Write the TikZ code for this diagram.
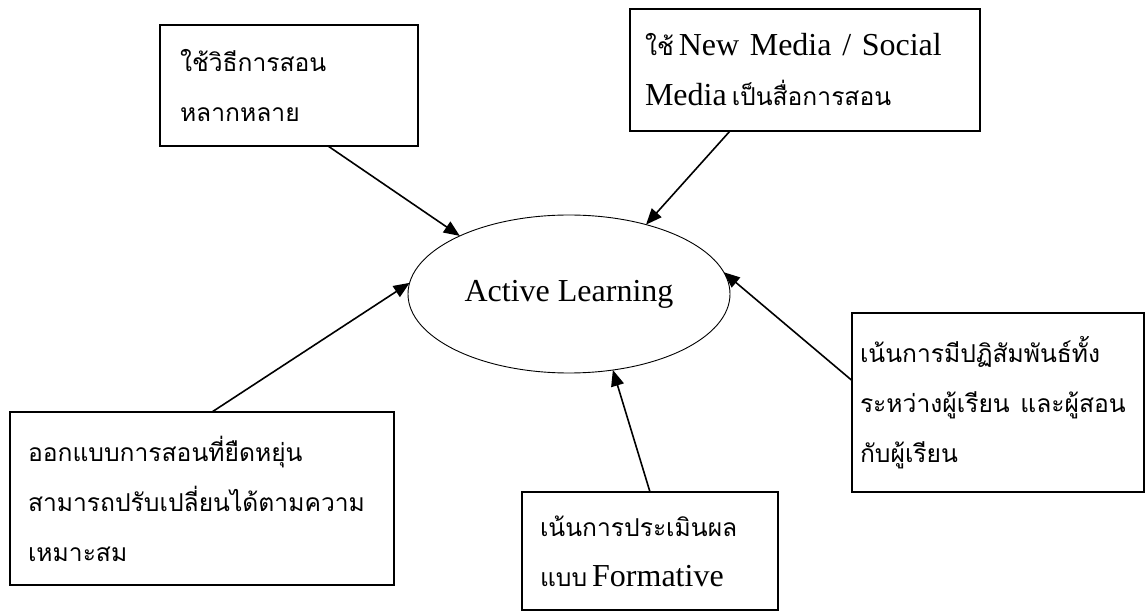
\documentclass[tikz,border=0pt]{standalone}
\usepackage{fontspec}
\setmainfont{Liberation Serif}
\newfontfamily\thaifont[Script=Thai,Scale=0.77]{Loma}
\newcommand{\tx}[1]{{\thaifont #1}}
\usetikzlibrary{shapes.geometric,arrows.meta,calc}

\tikzset{
  box/.style={draw, rectangle, line width=1.6pt, align=left, inner ysep=2pt, outer sep=0pt,
    font=\fontsize{32}{50}\selectfont},
  goal/.style={draw, ellipse, line width=0.9pt, inner sep=0pt, outer sep=0pt,
    minimum width=322pt, minimum height=158pt, font=\fontsize{32}{38}\selectfont},
  arr/.style={-{Triangle[length=16pt,width=13pt]}, line width=1.6pt}
}

\begin{document}
\begin{tikzpicture}[x=1pt,y=-1pt]
  \useasboundingbox (0,0) rectangle (1146,612);

  \node[goal] (goal) at (569,294) {Active Learning};

  \node[box, inner xsep=20pt, text width=218pt, minimum height=121pt] (method) at (289,85.5)
    {\tx{ใช้วิธีการสอน}\\ \tx{หลากหลาย}};
  \node[box, inner xsep=15pt, text width=320pt, minimum height=122pt] (media) at (805,70)
    {\tx{ใช้}\hspace{5pt}New Media / Social\\ Media\hspace{5pt}\tx{เป็นสื่อการสอน}};
  \node[box, inner xsep=8pt, text width=276pt, minimum height=179pt] (interact) at (998,402.5)
    {\tx{เน้นการมีปฏิสัมพันธ์ทั้ง}\\ \tx{ระหว่างผู้เรียน และผู้สอน}\\ \tx{กับผู้เรียน}};
  \node[box, inner xsep=18pt, text width=220pt, minimum height=118pt] (assess) at (650,551)
    {\tx{เน้นการประเมินผล}\\ \tx{แบบ}\hspace{5pt}Formative};
  \node[box, inner xsep=18pt, text width=348pt, minimum height=173pt] (flex) at (202,498.5)
    {\tx{ออกแบบการสอนที่ยืดหยุ่น}\\ \tx{สามารถปรับเปลี่ยนได้ตามความ}\\ \tx{เหมาะสม}};

  % arrows into the centre
  \draw[arr] ([xshift=39pt]method.south) -- (goal.152);
  \draw[arr] ([xshift=-75pt]media.south) -- (goal.42);
  \draw[arr] ([yshift=22pt]interact.west) -- (goal.8);
  \draw[arr] (assess.north) -- (goal.-60);
  \draw[arr] ([xshift=10pt]flex.north) -- (goal.176);
\end{tikzpicture}
\end{document}
